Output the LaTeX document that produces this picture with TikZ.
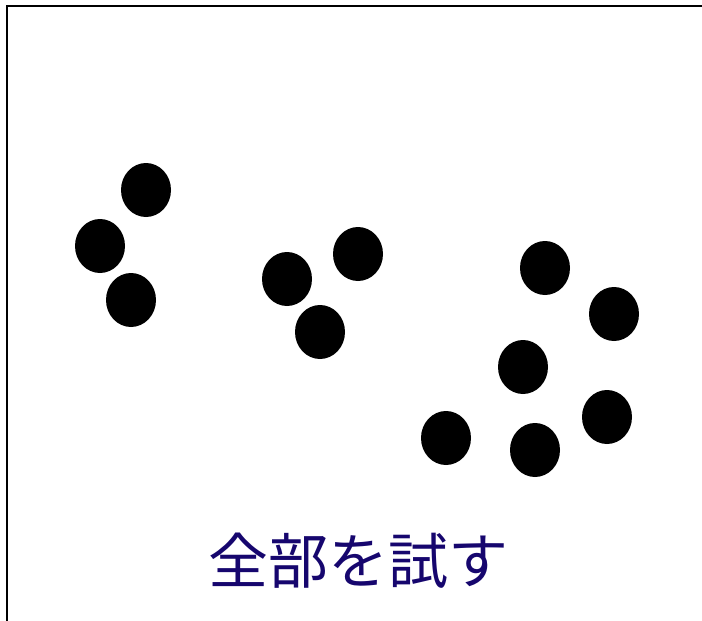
\documentclass[tikz,border=0pt]{standalone}
\usepackage{fontspec}
\newfontfamily\cjk{Noto Sans CJK JP}
\usetikzlibrary{shapes.geometric}
\definecolor{textnavy}{RGB}{22,6,110}
\begin{document}
\begin{tikzpicture}[x=1pt,y=-1pt]
\tikzstyle{dot}=[ellipse, fill=black, inner sep=0pt, minimum width=50pt, minimum height=54pt]
\tikzstyle{frame}=[line width=2pt, black]
\useasboundingbox (0,0) rectangle (702,621);
\coordinate (fbl) at (7,625);
\coordinate (ftl) at (7,6);
\coordinate (ftr) at (706,6);
\draw[frame] (fbl) -- (ftl) -- (ftr);
% left group
\node[dot] (a1) at (146,190) {};
\node[dot] (a2) at (100,246) {};
\node[dot] (a3) at (131,300) {};
% middle group
\node[dot] (b1) at (358,254) {};
\node[dot] (b2) at (287,279) {};
\node[dot] (b3) at (320,332) {};
% right group
\foreach \n/\x/\y in {c1/545/268, c2/614/314, c3/523/367, c4/607/417, c5/446/438, c6/535/450}
  \node[dot] (\n) at (\x,\y) {};
\node[text=textnavy, font=\cjk\fontsize{60}{70}\selectfont] (label) at (358,561) {全部を試す};
\end{tikzpicture}
\end{document}
